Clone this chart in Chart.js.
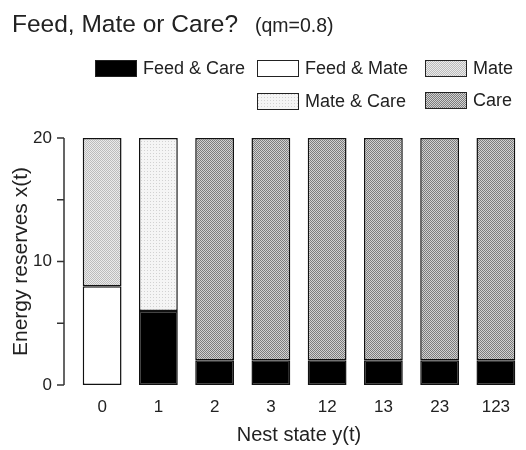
<!DOCTYPE html>
<html>
<head>
<meta charset="utf-8">
<script src="https://cdn.jsdelivr.net/npm/chart.js@4"></script>
<style>
  body { margin: 0; background: #fff; }
  #wrap { position: relative; width: 526px; height: 450px; font-family: "Liberation Sans", Arial, sans-serif; color: #222; }
  #chart { position: absolute; left: 0; top: 0; }
  .title { position: absolute; left: 12px; top: 12px; font-size: 24.5px; line-height: 24px; white-space: nowrap; }
  .sub { position: absolute; left: 255px; top: 16px; font-size: 19.5px; line-height: 19px; white-space: nowrap; }
  .lg { position: absolute; display: flex; align-items: center; font-size: 18px; white-space: nowrap; }
  .sw { width: 40px; height: 15px; border: 1px solid #222; margin-right: 6px; box-sizing: content-box; }
</style>
</head>
<body>
<div id="wrap">
  <canvas id="chart" width="526" height="450"></canvas>
  <div class="title">Feed, Mate or Care?</div>
  <div class="sub">(qm=0.8)</div>
  <div id="legend"></div>
</div>
<script>
const labels = ['0', '1', '2', '3', '12', '13', '23', '123'];
const feedCare = [null, 6, 2, 2, 2, 2, 2, 2];
const feedMate = [8, null, null, null, null, null, null, null];
const mate = [12, null, null, null, null, null, null, null];
const mateCare = [null, 14, null, null, null, null, null, null];
const care = [null, null, 18, 18, 18, 18, 18, 18];

// stipple fills like the printed figure
function makePattern(size, bg, dot, cells) {
  const c = document.createElement('canvas');
  c.width = size; c.height = size;
  const g = c.getContext('2d');
  g.fillStyle = bg;
  g.fillRect(0, 0, size, size);
  g.fillStyle = dot;
  cells.forEach(([x, y]) => g.fillRect(x, y, 1, 1));
  return c;
}
const careTile = makePattern(2, '#d2d2d2', '#7c7c7c', [[0, 0], [1, 1]]);
const mateTile = makePattern(2, '#ebebeb', '#bcbcbc', [[0, 0], [1, 1]]);
const mateCareTile = makePattern(3, '#f5f5f5', '#d2d2d2', [[0, 0]]);

const ctx = document.getElementById('chart').getContext('2d');
const fills = {
  feedCare: '#000',
  feedMate: '#fff',
  mate: ctx.createPattern(mateTile, 'repeat'),
  mateCare: ctx.createPattern(mateCareTile, 'repeat'),
  care: ctx.createPattern(careTile, 'repeat')
};

const series = [
  { label: 'Feed & Care', data: feedCare, fill: fills.feedCare },
  { label: 'Feed & Mate', data: feedMate, fill: fills.feedMate },
  { label: 'Mate', data: mate, fill: fills.mate },
  { label: 'Mate & Care', data: mateCare, fill: fills.mateCare },
  { label: 'Care', data: care, fill: fills.care }
];

// legend in the figure's two-row layout
const legendItems = [
  { label: 'Feed & Care', bg: '#000', x: 95, y: 58 },
  { label: 'Feed & Mate', bg: '#fff', x: 257, y: 58 },
  { label: 'Mate', tile: mateTile, x: 425, y: 58 },
  { label: 'Mate & Care', tile: mateCareTile, x: 257, y: 91 },
  { label: 'Care', tile: careTile, x: 425, y: 90 }
];
const legendEl = document.getElementById('legend');
legendItems.forEach(it => {
  const d = document.createElement('div');
  d.className = 'lg';
  d.style.left = it.x + 'px';
  d.style.top = it.y + 'px';
  const sw = document.createElement('div');
  sw.className = 'sw';
  if (it.tile) sw.style.background = 'url(' + it.tile.toDataURL() + ') repeat';
  else sw.style.background = it.bg;
  d.appendChild(sw);
  d.appendChild(document.createTextNode(it.label));
  legendEl.appendChild(d);
});

// y axis line sits a little left of the first bar, with minor ticks
const yTickMarks = [0, 5, 10, 15, 20];
const axisLine = {
  id: 'axisLine',
  afterDraw(chart) {
    const y = chart.scales.y;
    const c = chart.ctx;
    const ax = chart.chartArea.left - 10;
    c.save();
    c.strokeStyle = '#333';
    c.lineWidth = 1.5;
    c.beginPath();
    c.moveTo(ax, y.getPixelForValue(20));
    c.lineTo(ax, y.getPixelForValue(0));
    yTickMarks.forEach(v => {
      const py = y.getPixelForValue(v);
      c.moveTo(ax - 7, py);
      c.lineTo(ax, py);
    });
    c.stroke();
    c.restore();
  }
};

new Chart(ctx, {
  type: 'bar',
  data: {
    labels: labels,
    datasets: series.map(s => ({
      label: s.label,
      data: s.data,
      backgroundColor: s.fill,
      borderColor: '#111',
      borderWidth: 1.5,
      borderSkipped: false,
      barPercentage: 0.69,
      categoryPercentage: 1
    }))
  },
  options: {
    responsive: false,
    animation: false,
    layout: { padding: { top: 138, right: 2, bottom: 0, left: 0 } },
    plugins: { legend: { display: false }, tooltip: { enabled: false } },
    scales: {
      x: {
        stacked: true,
        grid: { display: false, drawTicks: false },
        border: { display: false },
        ticks: { color: '#222', font: { family: 'Liberation Sans', size: 17 }, padding: 12 },
        title: { display: true, text: 'Nest state y(t)', color: '#222', font: { family: 'Liberation Sans', size: 20 }, padding: { top: 0, bottom: 3 } },
        afterFit(scale) { scale.height = 65; }
      },
      y: {
        stacked: true,
        min: 0,
        max: 20,
        grid: { display: false, drawTicks: false },
        border: { display: false },
        ticks: { stepSize: 10, color: '#222', font: { family: 'Liberation Sans', size: 17 }, padding: 22 },
        title: { display: true, text: 'Energy reserves x(t)', color: '#222', font: { family: 'Liberation Sans', size: 21 }, padding: { top: 9, bottom: 0 } },
        afterFit(scale) { scale.width = 74; }
      }
    }
  },
  plugins: [axisLine]
});
</script>
</body>
</html>
